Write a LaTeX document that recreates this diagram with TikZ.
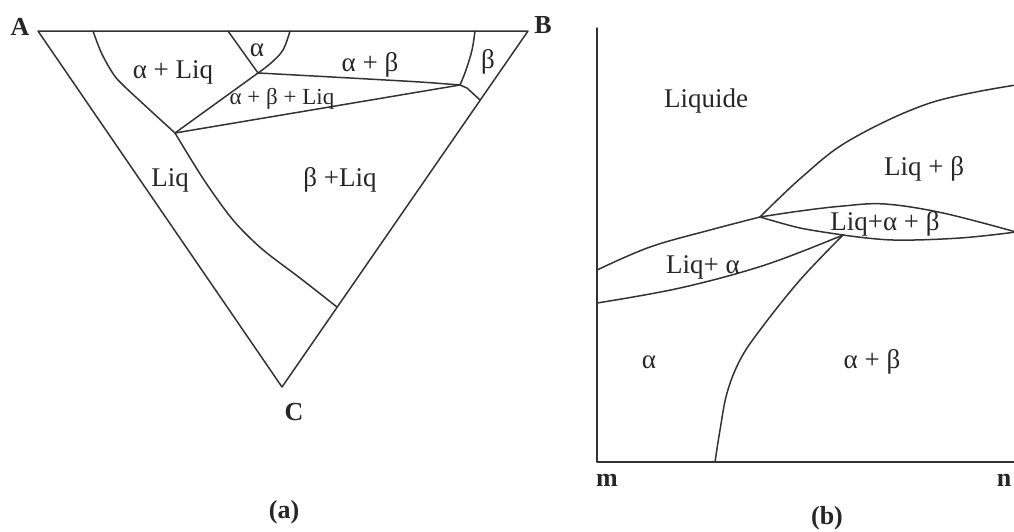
\documentclass[tikz,border=0pt]{standalone}
\usepackage{fontspec}
\setmainfont{Liberation Serif}
\begin{document}
\begin{tikzpicture}[x=1pt,y=-1pt,
  ln/.style={line width=1.5pt,draw=black!80,line join=round,line cap=round},
  lab/.style={inner sep=0pt,text=black!85,font=\fontsize{27}{30}\selectfont},
  smlab/.style={inner sep=0pt,text=black!85,font=\fontsize{23}{26}\selectfont},
  blab/.style={inner sep=0pt,text=black!85,font=\fontsize{26}{30}\selectfont\bfseries}]
\useasboundingbox (0,0) rectangle (1014,531);
% ---------- (a) ternary ----------
\coordinate (A) at (38,31);
\coordinate (B) at (528,31);
\coordinate (C) at (282,387);
\coordinate (E) at (175,133);
\coordinate (F) at (258,73);
\coordinate (G) at (460,85);
\coordinate (H) at (480,100);
\coordinate (H2) at (337,307);
\draw[ln] (A) -- (B) -- (C) -- cycle;
\draw[ln] plot[smooth,tension=0.5] coordinates {(93,31) (101,52) (112,72) (124,86) (E)};
\draw[ln] plot[smooth,tension=0.5] coordinates {(E) (204,180) (233,220) (262,249) (300,278) (H2)};
\draw[ln] (228,31) -- (F);
\draw[ln] plot[smooth,tension=0.6] coordinates {(290,31) (283,50) (271,63) (F)};
\draw[ln] (F) -- (E);
\draw[ln] plot[smooth,tension=0.5] coordinates {(F) (277,74) (350,78) (420,82) (G)};
\draw[ln] (E) -- (G);
\draw[ln] plot[smooth,tension=0.6] coordinates {(475,31) (472,50) (466,70) (G)};
\draw[ln] (G) -- (467,88) -- (H);
\node[blab] (lA) at (20,27) {A};
\node[blab] (lB) at (543,25) {B};
\node[blab] (lC) at (294,412) {C};
\node[blab] (la) at (284,512) {(a)};
\node[lab] (t1) at (173,72) {α + Liq};
\node[lab] (t2) at (257,50) {α};
\node[lab] (t3) at (370,65) {α + β};
\node[lab] (t4) at (488,62) {β};
\node[smlab] (t5) at (282,99) {α + β + Liq};
\node[lab] (t6) at (170,180) {Liq};
\node[lab] (t7) at (340,180) {β +Liq};
% ---------- (b) section ----------
\coordinate (O) at (597,462);
\coordinate (Ytop) at (597,28);
\coordinate (Xend) at (1016,462);
\coordinate (P) at (760,217);
\coordinate (Q) at (843,235);
\coordinate (R) at (1016,232);
\draw[ln] (Ytop) -- (O) -- (Xend);
\draw[ln] plot[smooth,tension=0.6] coordinates {(P) (802,177) (850,140) (930,103) (1016,85)};
\draw[ln] plot[smooth,tension=0.6] coordinates {(P) (800,211) (843,206) (885,204) (943,213) (R)};
\draw[ln] plot[smooth,tension=0.6] coordinates {(Q) (893,240) (960,238) (R)};
\draw[ln] plot[smooth,tension=0.5] coordinates {(P) (800,228) (Q)};
\draw[ln] plot[smooth,tension=0.6] coordinates {(597,270) (650,247) (710,230) (P)};
\draw[ln] plot[smooth,tension=0.6] coordinates {(597,303) (680,288) (765,265) (Q)};
\draw[ln] plot[smooth,tension=0.6] coordinates {(Q) (800,280) (760,330) (740,360) (727,393) (720,430) (715,462)};
\node[lab] (s1) at (706,101) {Liquide};
\node[lab] (s2) at (924,169) {Liq + β};
\node[lab] (s3) at (885,224) {Liq+α + β};
\node[lab] (s4) at (703,267) {Liq+ α};
\node[lab] (s5) at (649,362) {α};
\node[lab] (s6) at (872,362) {α + β};
\node[blab] (lm) at (607,480) {m};
\node[blab] (ln) at (1004,480) {n};
\node[blab] (lb) at (827,518) {(b)};
\end{tikzpicture}
\end{document}
